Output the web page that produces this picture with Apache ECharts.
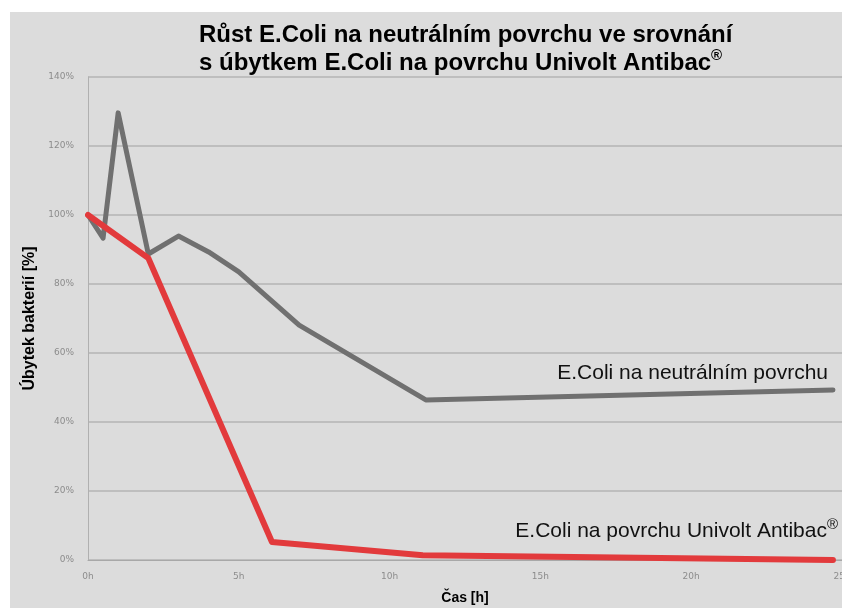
<!DOCTYPE html>
<html>
<head>
<meta charset="utf-8">
<script src="https://cdn.jsdelivr.net/npm/echarts@6/dist/echarts.min.js"></script>
<style>
  html, body { margin: 0; padding: 0; background: #ffffff; }
  #container { position: absolute; left: 10px; top: 12px; width: 832px; height: 596px; }
</style>
</head>
<body>
<div id="container"></div>
<script>
// hodnoty (čas v hodinách, úbytek v %)
var neutralTime = [0, 0.5, 1, 2, 3, 4, 5, 7, 11.2, 24.7];
var neutralValue = [100, 93.3, 129.6, 88.7, 93.9, 89.3, 83.5, 68.1, 46.4, 49.3];
var antibacTime = [0, 2, 6.1, 11.1, 24.7];
var antibacValue = [100, 87.5, 5.2, 1.4, 0];

var titleLine1 = 'Růst E.Coli na neutrálním povrchu ve srovnání';
var titleLine2 = 's úbytkem E.Coli na povrchu Univolt Antibac';
var neutralLabel = 'E.Coli na neutrálním povrchu';
var antibacLabel = 'E.Coli na povrchu Univolt Antibac';

function pairs(xs, ys) {
	var out = [];
	for (var i = 0; i < xs.length; i++) {
		out.push([xs[i], ys[i]]);
	}
	return out;
}

var myChart = echarts.init(document.getElementById('container'));
myChart.setOption({
	backgroundColor: '#dcdcdc',
	animation: false,
	title: {
		text: '{t|' + titleLine1 + '}\n{t|' + titleLine2 + '}{sup|®}',
		left: 184,
		top: 4,
		textStyle: {
			rich: {
				t: {fontFamily: 'Liberation Sans', fontWeight: 'bold', fontSize: 24, color: '#000000', lineHeight: 28},
				sup: {fontFamily: 'Liberation Sans', fontWeight: 'bold', fontSize: 15, color: '#000000', lineHeight: 28, padding: [0, 0, 14, 0]}
			}
		}
	},
	grid: {left: 78, right: 0, top: 65, bottom: 48, outerBoundsMode: 'none'},
	xAxis: {
		type: 'value',
		min: 0,
		max: 25,
		interval: 5,
		name: 'Čas [h]',
		nameLocation: 'middle',
		nameGap: 31,
		nameTextStyle: {fontFamily: 'Liberation Sans', fontWeight: 'bold', fontSize: 14, color: '#000000'},
		axisLine: {lineStyle: {color: '#a8a8a8', width: 1}},
		axisTick: {show: false},
		splitLine: {show: false},
		axisLabel: {
			formatter: '{value}h',
			fontFamily: 'DejaVu Sans',
			fontSize: 9,
			color: '#8c8c8c',
			margin: 12
		}
	},
	yAxis: {
		type: 'value',
		min: 0,
		max: 140,
		interval: 20,
		name: 'Úbytek bakterií [%]',
		nameLocation: 'middle',
		nameGap: 48,
		nameTextStyle: {fontFamily: 'Liberation Sans', fontWeight: 'bold', fontSize: 16, color: '#000000'},
		axisLine: {show: true, lineStyle: {color: '#b0b0b0', width: 1}},
		axisTick: {show: false},
		splitLine: {lineStyle: {color: '#b4b4b4', width: 1.5}},
		axisLabel: {
			formatter: '{value}%',
			fontFamily: 'DejaVu Sans',
			fontSize: 9,
			color: '#8c8c8c',
			margin: 14
		}
	},
	graphic: [
		{
			type: 'text',
			right: 14,
			top: 351,
			style: {
				text: neutralLabel,
				font: '21px "Liberation Sans"',
				fill: '#111111'
			}
		},
		{
			type: 'text',
			right: 4,
			top: 505,
			style: {
				text: '{t|' + antibacLabel + '}{sup|®}',
				rich: {
					t: {font: '21px "Liberation Sans"', fill: '#111111', lineHeight: 26},
					sup: {font: '15px "Liberation Sans"', fill: '#111111', lineHeight: 26, padding: [0, 0, 14, 0]}
				}
			}
		}
	],
	series: [
		{
			name: neutralLabel,
			type: 'line',
			data: pairs(neutralTime, neutralValue),
			symbol: 'none',
			lineStyle: {color: '#707070', width: 5, join: 'round', cap: 'round'}
		},
		{
			name: antibacLabel,
			type: 'line',
			data: pairs(antibacTime, antibacValue),
			symbol: 'none',
			lineStyle: {color: '#e23a3c', width: 6, join: 'round', cap: 'round'}
		}
	]
});
</script>
</body>
</html>
